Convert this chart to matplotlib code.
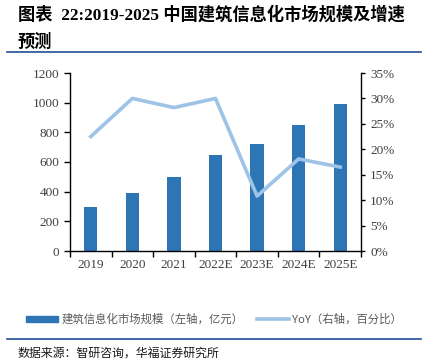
import numpy as np
import matplotlib.pyplot as plt
from matplotlib.patches import Patch
from matplotlib.lines import Line2D

years = ['2019', '2020', '2021', '2022E', '2023E', '2024E', '2025E']
market_size = [300, 390, 500, 650, 720, 850, 990]   # 亿元
yoy = [22.5, 30.0, 28.2, 30.0, 10.8, 18.1, 16.5]       # %

bar_color = '#2E75B6'
line_color = '#9DC3E6'
tick_color = '#404040'
navy = '#1F4E99'
cjk = ['Noto Sans CJK SC', 'DejaVu Sans']
serif = ['Liberation Serif', 'Noto Sans CJK SC']

W, H = 430, 364
fig = plt.figure(figsize=(W / 100, H / 100), dpi=100)

# plot area in pixels
x0, x1, y0, y1 = 70, 361, 73, 251
ax = fig.add_axes([x0 / W, 1 - y1 / H, (x1 - x0) / W, (y1 - y0) / H])

x = np.arange(len(years))
ax.bar(x, market_size, width=0.32, color=bar_color, zorder=2)
ax.set_xlim(-0.5, len(years) - 0.5)
ax.set_ylim(0, 1200)
ax.set_yticks(range(0, 1201, 200))
ax.set_xticks(x)
ax.set_xticklabels(years)
ax.set_xticks(np.arange(-0.5, len(years), 1), minor=True)
ax.tick_params(axis='x', which='major', length=0, pad=6)
ax.tick_params(axis='x', which='minor', length=4, direction='out', width=1)
ax.tick_params(axis='y', length=4, direction='out', width=1)
ax.tick_params(labelsize=9.5, labelcolor=tick_color)
for lab in ax.get_xticklabels() + ax.get_yticklabels():
    lab.set_family(serif)
for s in ['top', 'right']:
    ax.spines[s].set_visible(False)
for s in ['left', 'bottom']:
    ax.spines[s].set_linewidth(1)
    ax.spines[s].set_color('black')

ax2 = ax.twinx()
ax2.plot(x, yoy, color=line_color, lw=2.6, zorder=3)
ax2.set_ylim(0, 35)
ax2.set_yticks(range(0, 36, 5))
ax2.set_yticklabels([f'{v}%' for v in range(0, 36, 5)])
ax2.tick_params(axis='y', length=3, direction='out', width=1, labelsize=9.5, labelcolor=tick_color)
for lab in ax2.get_yticklabels():
    lab.set_family(serif)
for s in ['top', 'left', 'bottom']:
    ax2.spines[s].set_visible(False)
ax2.spines['right'].set_color('black')
ax2.spines['right'].set_linewidth(1)

# title
fig.text(18 / W, 1 - 15 / H, '图表  22:2019-2025 中国建筑信息化市场规模及增速',
         family=serif, fontweight='bold', fontsize=12.4, va='center', ha='left')
fig.text(18 / W, 1 - 42 / H, '预测', family=serif, fontweight='bold',
         fontsize=12.4, va='center', ha='left')
fig.add_artist(Line2D([7 / W, 421 / W], [1 - 52 / H, 1 - 52 / H], color=navy, lw=1.2))

# legend
handles = [Patch(color=bar_color), Line2D([], [], color=line_color, lw=2.6)]
labels = ['建筑信息化市场规模（左轴，亿元）', 'YoY（右轴，百分比）']
fig.legend(handles, labels, loc='center', bbox_to_anchor=(214 / W, 1 - 319 / H), ncol=2,
           frameon=False, prop={'family': cjk, 'size': 8.2}, labelcolor='#595959',
           handlelength=2.8, handleheight=0.45, columnspacing=1.2, handletextpad=0.3)

# source
fig.add_artist(Line2D([7 / W, 421 / W], [1 - 339 / H, 1 - 339 / H], color=navy, lw=1.2))
fig.text(17 / W, 1 - 353 / H, '数据来源：智研咨询，华福证券研究所', family=cjk,
         fontsize=8.6, va='center', ha='left', color='#1a1a1a', fontweight='medium')

fig.savefig('out.png', dpi=100)
